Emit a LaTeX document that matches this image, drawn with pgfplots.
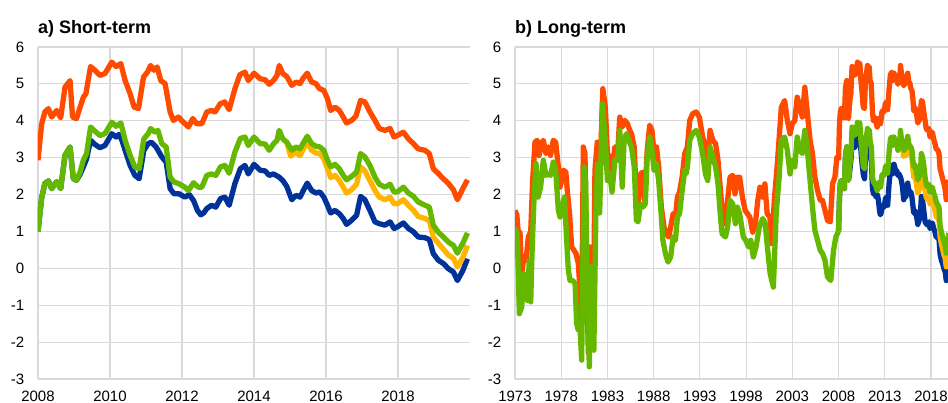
\documentclass[border=0pt]{standalone}
\usepackage{pgfplots}
\pgfplotsset{compat=1.18}
\usepackage{pgfplotstable}
\usepackage{fontspec}
\setmainfont{Liberation Sans}
\definecolor{ecborange}{HTML}{FF4B00}
\definecolor{ecbgreen}{HTML}{65B800}
\definecolor{ecbyellow}{HTML}{FFB400}
\definecolor{ecbblue}{HTML}{003299}
\definecolor{gridgray}{HTML}{D9D9D9}

% ---------------- short-term data 2008-2019 ----------------
\pgfplotstableread{
x y
2008.00 2.93
2008.10 3.90
2008.19 4.24
2008.29 4.33
2008.38 4.10
2008.52 4.28
2008.63 4.08
2008.75 4.91
2008.89 5.09
2008.96 4.10
2009.07 4.06
2009.17 4.37
2009.26 4.64
2009.33 4.73
2009.46 5.47
2009.58 5.37
2009.72 5.23
2009.86 5.28
2010.05 5.59
2010.17 5.47
2010.30 5.55
2010.42 5.09
2010.56 4.73
2010.67 4.37
2010.79 4.33
2010.93 5.18
2011.04 5.32
2011.13 5.50
2011.22 5.37
2011.31 5.46
2011.41 5.09
2011.53 5.01
2011.67 4.24
2011.76 4.01
2011.90 4.10
2012.04 3.96
2012.18 3.83
2012.30 4.06
2012.41 3.92
2012.55 3.92
2012.69 4.24
2012.82 4.28
2012.92 4.24
2013.06 4.46
2013.19 4.51
2013.31 4.30
2013.47 4.87
2013.61 5.25
2013.75 5.32
2013.84 5.09
2014.00 5.29
2014.17 5.14
2014.31 5.11
2014.42 4.99
2014.54 5.09
2014.64 5.23
2014.70 5.50
2014.80 5.28
2014.91 5.20
2015.05 4.96
2015.17 5.05
2015.28 5.01
2015.37 5.16
2015.48 5.29
2015.60 5.05
2015.72 5.01
2015.81 4.88
2015.94 4.82
2016.04 4.60
2016.13 4.28
2016.25 4.37
2016.37 4.28
2016.48 4.10
2016.57 3.94
2016.71 4.01
2016.83 4.12
2016.96 4.55
2017.08 4.51
2017.22 4.24
2017.36 4.01
2017.48 3.79
2017.64 3.74
2017.78 3.79
2017.89 3.56
2017.98 3.60
2018.15 3.69
2018.29 3.51
2018.43 3.38
2018.56 3.24
2018.75 3.20
2018.87 3.11
2018.98 2.70
2019.12 2.57
2019.26 2.43
2019.40 2.30
2019.54 2.13
2019.65 1.86
2019.80 2.16
2019.93 2.40
}\orshort

\pgfplotstableread{
x y
2008.00 1.00
2008.10 1.90
2008.19 2.30
2008.29 2.37
2008.38 2.16
2008.52 2.35
2008.63 2.16
2008.75 3.06
2008.89 3.29
2008.98 2.43
2009.07 2.39
2009.17 2.61
2009.26 2.93
2009.35 3.11
2009.46 3.83
2009.58 3.72
2009.72 3.60
2009.86 3.65
2010.05 3.96
2010.17 3.85
2010.30 3.94
2010.42 3.47
2010.56 3.06
2010.69 2.75
2010.81 2.70
2010.94 3.51
2011.06 3.65
2011.13 3.79
2011.25 3.69
2011.33 3.74
2011.44 3.38
2011.56 3.29
2011.67 2.47
2011.78 2.34
2011.90 2.30
2012.08 2.20
2012.18 2.11
2012.32 2.32
2012.45 2.20
2012.55 2.20
2012.69 2.52
2012.82 2.56
2012.94 2.52
2013.07 2.75
2013.19 2.79
2013.31 2.58
2013.47 3.15
2013.62 3.52
2013.75 3.56
2013.84 3.33
2014.00 3.56
2014.17 3.38
2014.31 3.37
2014.42 3.20
2014.54 3.37
2014.64 3.47
2014.70 3.74
2014.80 3.51
2014.91 3.42
2015.05 3.20
2015.17 3.29
2015.28 3.24
2015.37 3.40
2015.48 3.58
2015.60 3.38
2015.72 3.31
2015.83 3.29
2015.94 3.20
2016.04 2.93
2016.13 2.75
2016.25 2.82
2016.37 2.70
2016.48 2.52
2016.57 2.40
2016.71 2.49
2016.85 2.61
2016.96 3.11
2017.08 3.02
2017.22 2.79
2017.36 2.47
2017.48 2.28
2017.64 2.20
2017.78 2.28
2017.89 2.07
2017.98 2.07
2018.15 2.20
2018.29 2.04
2018.43 1.95
2018.56 1.80
2018.75 1.71
2018.87 1.66
2018.98 1.17
2019.12 0.98
2019.26 0.85
2019.40 0.71
2019.54 0.62
2019.65 0.41
2019.80 0.68
2019.93 0.96
}\grshort

\pgfplotstableread{
x y
2014.91 3.42
2015.02 3.04
2015.14 3.15
2015.28 3.06
2015.37 3.24
2015.48 3.42
2015.60 3.20
2015.72 3.13
2015.83 3.11
2015.94 2.97
2016.04 2.70
2016.13 2.46
2016.25 2.52
2016.37 2.38
2016.48 2.20
2016.57 2.04
2016.71 2.13
2016.85 2.28
2016.96 2.75
2017.08 2.64
2017.22 2.38
2017.36 2.11
2017.48 1.93
2017.64 1.86
2017.78 1.93
2017.89 1.75
2017.98 1.75
2018.15 1.86
2018.29 1.71
2018.43 1.57
2018.56 1.41
2018.75 1.35
2018.87 1.30
2018.98 0.85
2019.12 0.68
2019.26 0.52
2019.40 0.36
2019.54 0.27
2019.65 0.04
2019.80 0.29
2019.93 0.62
}\ylshort

\pgfplotstableread{
x y
2008.00 1.00
2008.10 1.90
2008.19 2.30
2008.29 2.37
2008.38 2.16
2008.52 2.35
2008.63 2.16
2008.75 3.06
2008.89 3.29
2008.98 2.43
2009.07 2.39
2009.17 2.55
2009.26 2.75
2009.35 2.97
2009.46 3.47
2009.58 3.36
2009.72 3.27
2009.86 3.33
2010.05 3.65
2010.17 3.56
2010.25 3.63
2010.33 3.47
2010.42 3.20
2010.56 2.79
2010.69 2.52
2010.81 2.43
2010.94 3.20
2011.06 3.38
2011.15 3.42
2011.28 3.29
2011.44 3.02
2011.56 2.88
2011.67 2.16
2011.78 2.02
2011.92 2.02
2012.08 1.93
2012.20 2.00
2012.32 1.84
2012.43 1.57
2012.52 1.45
2012.60 1.50
2012.69 1.62
2012.82 1.71
2012.94 1.66
2013.07 1.89
2013.19 1.93
2013.31 1.71
2013.47 2.30
2013.62 2.70
2013.75 2.79
2013.84 2.56
2014.00 2.82
2014.17 2.66
2014.31 2.64
2014.42 2.52
2014.54 2.56
2014.70 2.47
2014.80 2.38
2014.91 2.22
2015.05 1.86
2015.17 1.98
2015.28 1.93
2015.37 2.11
2015.48 2.31
2015.60 2.11
2015.72 2.04
2015.83 2.07
2015.94 1.93
2016.04 1.71
2016.13 1.50
2016.25 1.57
2016.37 1.48
2016.48 1.35
2016.57 1.19
2016.71 1.30
2016.85 1.44
2016.96 1.95
2017.08 1.86
2017.22 1.57
2017.36 1.26
2017.48 1.21
2017.64 1.17
2017.78 1.26
2017.89 1.08
2017.98 1.12
2018.15 1.23
2018.29 1.08
2018.43 0.99
2018.56 0.85
2018.75 0.83
2018.87 0.78
2018.98 0.40
2019.12 0.22
2019.26 0.13
2019.40 -0.01
2019.54 -0.10
2019.65 -0.33
2019.80 -0.06
2019.93 0.26
}\blshort

% ---------------- long-term history 1973-2008 ----------------
\pgfplotstableread{
x y
1973.00 1.57
1973.20 1.45
1973.36 0.94
1973.54 0.98
1973.72 -0.14
1973.97 0.31
1974.20 0.22
1974.44 0.85
1974.70 1.00
1974.91 2.38
1975.16 3.42
1975.40 3.47
1975.60 3.06
1975.88 3.38
1976.06 3.47
1976.35 3.11
1976.60 3.29
1976.85 3.06
1977.14 3.47
1977.40 3.42
1977.69 2.75
1977.87 2.20
1978.05 2.38
1978.23 2.66
1978.50 2.61
1978.66 2.11
1978.90 1.48
1979.13 0.58
1979.38 0.49
1979.60 0.40
1979.85 0.13
1980.03 -0.60
1980.21 -1.50
1980.39 3.29
1980.57 3.11
1980.75 -0.14
1980.93 -2.30
1981.10 0.58
1981.30 0.40
1981.46 -1.80
1981.65 2.66
1981.90 3.42
1982.10 2.93
1982.27 3.11
1982.50 4.87
1982.77 4.37
1983.00 3.11
1983.24 3.02
1983.50 2.66
1983.80 3.29
1984.10 3.11
1984.33 4.10
1984.60 3.83
1984.87 4.01
1985.16 3.92
1985.42 3.74
1985.60 3.65
1985.90 3.29
1986.13 1.84
1986.30 1.66
1986.60 2.57
1986.85 2.61
1987.03 1.84
1987.30 3.20
1987.57 3.88
1987.82 3.74
1988.04 3.11
1988.30 3.29
1988.54 2.75
1988.83 1.66
1989.12 1.12
1989.37 0.94
1989.62 0.85
1989.84 1.12
1990.10 1.48
1990.35 1.39
1990.57 1.93
1990.80 2.07
1991.08 2.48
1991.36 3.11
1991.50 3.20
1991.65 3.29
1991.90 4.01
1992.22 4.19
1992.60 4.24
1992.94 4.10
1993.30 3.56
1993.60 3.29
1993.85 2.93
1994.10 3.74
1994.40 3.47
1994.70 3.38
1994.96 2.93
1995.20 2.20
1995.47 1.39
1995.76 1.21
1996.00 1.84
1996.26 2.47
1996.55 2.52
1996.80 2.02
1997.05 2.47
1997.30 2.47
1997.60 1.93
1997.90 1.57
1998.15 1.48
1998.40 1.39
1998.71 0.98
1999.00 1.21
1999.26 1.84
1999.50 2.20
1999.80 1.93
2000.03 2.29
2000.28 1.48
2000.57 1.39
2000.80 0.67
2001.05 1.84
2001.38 2.84
2001.81 4.37
2002.17 4.55
2002.46 4.01
2002.75 3.65
2003.00 3.92
2003.27 4.01
2003.53 4.64
2003.82 4.37
2004.08 4.10
2004.35 4.91
2004.63 4.19
2004.92 3.47
2005.18 3.11
2005.44 2.47
2005.73 2.11
2006.02 1.84
2006.27 1.84
2006.53 1.57
2006.80 1.30
2007.10 1.26
2007.35 2.29
2007.60 2.47
2007.83 3.02
2008.00 2.93
}\orlong

\pgfplotstableread{
x y
1973.00 1.10
1973.20 0.94
1973.30 0.40
1973.47 -1.23
1973.72 -1.05
1973.97 -0.14
1974.20 -0.23
1974.33 -0.87
1974.55 0.22
1974.70 -0.91
1974.84 0.40
1975.05 1.84
1975.27 2.84
1975.50 1.93
1975.77 2.20
1976.06 2.93
1976.35 2.52
1976.60 2.56
1976.85 2.52
1977.14 2.88
1977.40 2.66
1977.69 1.57
1977.87 1.39
1978.12 1.66
1978.34 1.93
1978.59 0.76
1978.77 -0.05
1978.95 -0.33
1979.24 -0.33
1979.50 -0.42
1979.67 -1.50
1979.85 -1.68
1980.03 -1.59
1980.21 -2.49
1980.47 2.75
1980.64 2.38
1980.82 -0.60
1981.04 -2.67
1981.20 0.04
1981.40 -0.60
1981.53 -2.22
1981.76 1.66
1981.95 2.84
1982.16 1.50
1982.45 4.46
1982.77 3.47
1983.00 2.38
1983.24 2.56
1983.50 2.07
1983.80 2.93
1984.10 2.93
1984.33 3.74
1984.60 2.20
1984.80 3.47
1985.05 3.65
1985.30 3.47
1985.60 3.29
1985.90 2.75
1986.13 1.30
1986.30 1.26
1986.60 1.75
1986.85 1.66
1987.10 1.75
1987.30 3.02
1987.57 3.56
1987.82 3.20
1988.04 2.66
1988.30 2.84
1988.54 2.38
1988.83 1.39
1989.00 0.76
1989.27 0.40
1989.55 0.17
1989.84 0.31
1990.10 0.85
1990.35 0.76
1990.57 1.39
1990.80 1.48
1991.08 2.11
1991.36 2.66
1991.50 2.56
1991.65 2.75
1991.90 3.47
1992.22 3.65
1992.60 3.74
1992.94 3.56
1993.30 3.11
1993.60 2.56
1993.85 2.38
1994.10 3.29
1994.40 3.02
1994.70 2.75
1994.96 2.29
1995.20 1.48
1995.40 0.94
1995.76 0.85
1996.00 1.12
1996.26 1.84
1996.55 1.75
1996.84 1.21
1997.05 1.66
1997.30 1.48
1997.70 0.85
1997.96 0.76
1998.26 0.58
1998.50 0.76
1998.78 0.31
1999.07 0.58
1999.43 1.12
1999.80 1.35
2000.07 1.21
2000.30 0.58
2000.60 -0.14
2000.95 -0.51
2001.26 1.50
2001.55 2.38
2001.81 3.47
2002.17 3.56
2002.46 3.20
2002.75 2.56
2003.00 2.93
2003.27 2.75
2003.53 3.56
2003.82 3.20
2004.08 3.11
2004.35 3.74
2004.63 3.20
2004.92 2.38
2005.18 1.66
2005.44 1.03
2005.73 0.76
2006.02 0.49
2006.27 0.40
2006.53 0.22
2006.80 -0.23
2007.16 -0.33
2007.46 0.49
2007.70 0.85
2008.00 1.00
}\grlong

\pgfplotsset{
  panel/.style={
    scale only axis, height=332pt,
    ymin=-3, ymax=6, ytick={-3,-2,...,6},
    grid=major, major grid style={draw=gridgray, line width=1.2pt},
    axis line style={draw=none}, major tick length=0pt,
    clip mode=individual,
    tick label style={font=\fontsize{15}{18}\selectfont, text=black},
    /pgf/number format/assume math mode=true,
    /pgf/number format/1000 sep={},
    xticklabel style={anchor=north, inner sep=0pt, yshift=-11.5pt},
    yticklabel style={anchor=east, inner sep=0pt, xshift=-13.5pt},
    every axis plot/.append style={line width=5.3pt, line join=round, no marks},
  },
}
\tikzset{ttl/.style={anchor=base west, inner sep=0pt, font=\fontsize{18}{21}\selectfont\bfseries}}

\begin{document}
\begin{tikzpicture}
\useasboundingbox (-38pt,-24pt) rectangle (910pt,379pt);
% ---------- a) Short-term ----------
\begin{axis}[panel, at={(0pt,0pt)}, anchor=south west, width=432pt,
  xmin=2008, xmax=2020, xtick={2008,2010,...,2018}]
  \addplot[ecborange] table {\orshort};
  \addplot[ecbblue] table {\blshort};
  \addplot[ecbyellow] table {\ylshort};
  \addplot[ecbgreen] table {\grshort};
  \node[ttl] at (rel axis cs:0,1) [yshift=13.7pt] {a) Short-term};
\end{axis}
% ---------- b) Long-term ----------
\begin{axis}[panel, at={(477pt,0pt)}, anchor=south west, width=433pt,
  xmin=1973, xmax=2019.84, xtick={1973,1978,...,2018}]
  \addplot[ecborange] table {\orlong};
  \addplot[ecborange] table {\orshort};
  \addplot[ecbblue] table {\blshort};
  \addplot[ecbyellow] table {\ylshort};
  \addplot[ecbgreen] table {\grlong};
  \addplot[ecbgreen] table {\grshort};
  \node[ttl] at (rel axis cs:0,1) [yshift=13.7pt] {b) Long-term};
\end{axis}
\end{tikzpicture}
\end{document}
